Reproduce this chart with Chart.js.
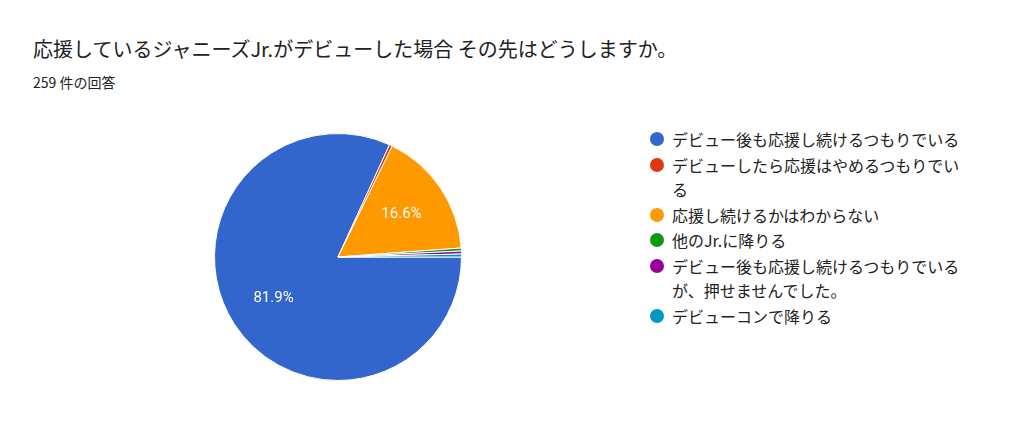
<!DOCTYPE html>
<html><head><meta charset="utf-8">
<script src="https://cdn.jsdelivr.net/npm/chart.js@4"></script>
<style>
body{margin:0;width:1024px;height:431px;background:#fff;font-family:"Noto Sans CJK JP",Roboto,sans-serif;position:relative;overflow:hidden}
#title{position:absolute;left:33px;top:34px;font-size:20px;color:#202124}
#sub{position:absolute;left:33px;top:72px;font-size:14px;color:#202124}
#wrap{position:absolute;left:212px;top:131px;width:252px;height:252px}
#legend{position:absolute;left:650px;top:127px;width:318px;font-size:16px;color:#202124;line-height:24.5px}
.item{display:flex;align-items:flex-start;margin-bottom:1px}
.dot{width:14px;height:14px;border-radius:50%;margin:5px 8px 0 0;flex:none}
</style></head><body>
<div id="title">応援しているジャニーズJr.がデビューした場合 その先はどうしますか。</div>
<div id="sub">259 件の回答</div>
<div id="wrap"><canvas id="c"></canvas></div>
<div id="legend"></div>
<script>
const labels=['デビュー後も応援し続けるつもりでいる','デビューしたら応援はやめるつもりでいる','応援し続けるかはわからない','他のJr.に降りる','デビュー後も応援し続けるつもりでいるが、押せませんでした。','デビューコンで降りる'];
const counts=[212,1,43,1,1,1];
const colors=['#3366cc','#dc3912','#ff9900','#109618','#990099','#0099c6'];
const lg=document.getElementById('legend');
labels.forEach((l,i)=>{lg.innerHTML+=`<div class="item"><span class="dot" style="background:${colors[i]}"></span><span>${l}</span></div>`;});
const pct={id:'pct',afterDatasetsDraw(ch){const c=ch.ctx,tot=counts.reduce((a,b)=>a+b,0);
ch.getDatasetMeta(0).data.forEach((a,i)=>{const p=counts[i]/tot;if(p<0.05)return;
const m=(a.startAngle+a.endAngle)/2,r=a.outerRadius*0.62;
c.save();c.fillStyle='#fff';c.font='15px Roboto';c.textAlign='center';c.textBaseline='middle';
c.fillText((p*100).toFixed(1)+'%',a.x+Math.cos(m)*r,a.y+Math.sin(m)*r);c.restore();});}};
new Chart(document.getElementById('c'),{type:'pie',data:{labels,datasets:[{data:counts,backgroundColor:colors,borderColor:'#fff',borderWidth:1}]},
options:{responsive:true,maintainAspectRatio:false,animation:false,rotation:90,layout:{padding:2},
plugins:{legend:{display:false},tooltip:{enabled:false}}},plugins:[pct]});
</script></body></html>
